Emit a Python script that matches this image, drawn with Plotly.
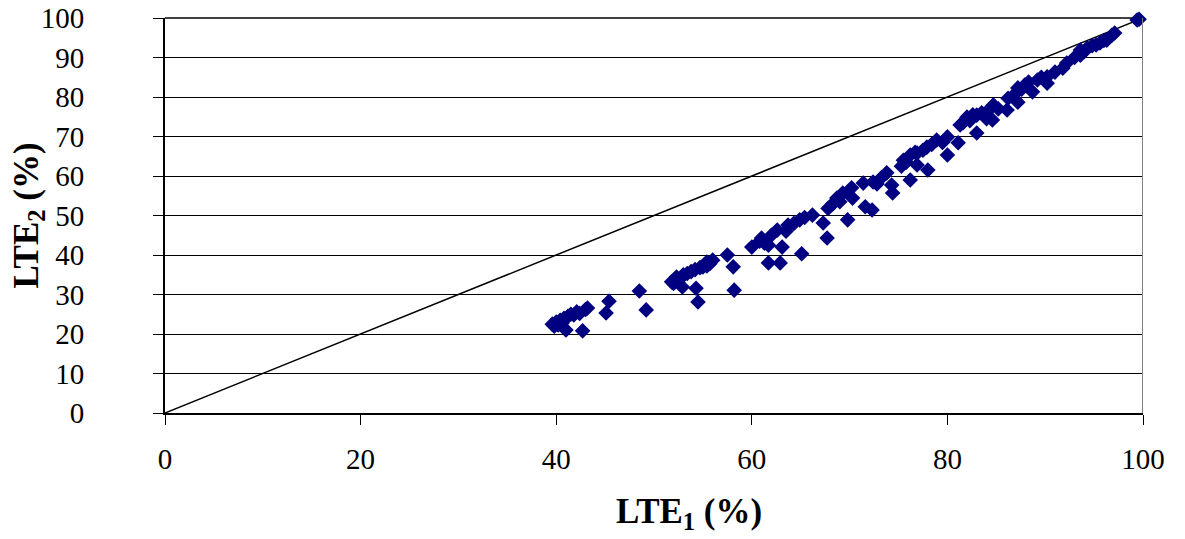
import plotly.graph_objects as go

lte1 = [39.6, 39.8, 40.0, 40.2, 40.4, 40.6, 40.8, 41.0, 41.2, 41.5, 41.8, 42.1, 42.4, 42.7, 43.0, 43.2,
        45.1, 45.4, 48.5, 49.2,
        51.8, 52.0, 52.3, 52.6, 52.9, 53.0, 53.4, 53.8, 54.2, 54.3, 54.5, 54.7, 55.0, 55.4, 55.4, 55.7,
        56.0, 57.5, 58.1, 58.2,
        60.0, 60.8, 61.0, 61.3, 61.7, 61.7, 62.0, 62.6, 62.9, 63.1, 63.5, 63.7, 64.3, 64.9, 65.1, 65.4,
        66.2, 67.3, 67.7, 67.8, 68.3, 68.7, 69.0, 69.3, 69.8, 70.2, 70.3, 71.4, 71.6, 72.3, 72.4, 72.8,
        73.3, 73.8, 74.3, 74.4, 75.3, 75.5, 75.8, 76.2, 76.2, 76.9, 76.7, 76.9, 77.5, 78.0, 77.9, 78.4,
        78.9, 79.5, 80.0, 80.0, 81.1, 81.3, 81.6, 82.0, 82.3, 82.6, 83.0, 83.0, 83.5, 84.0, 84.0, 84.6,
        84.7, 85.2, 86.1, 86.2, 86.8, 87.2, 87.2, 87.6, 87.9, 88.3, 88.7, 89.2, 89.6, 90.2, 90.2, 91.0,
        91.8, 92.2, 93.0, 93.6, 93.6, 94.0, 94.3, 94.8, 95.2, 95.6, 96.0, 96.3, 96.8, 97.1, 99.4, 99.6]
lte2 = [22.5, 22.0, 23.0, 22.3, 23.5, 22.8, 24.0, 21.0, 24.5, 25.0, 24.8, 25.6, 25.2, 20.8, 26.2, 26.6,
        25.3, 28.3, 30.9, 26.1,
        33.2, 32.8, 34.4, 33.8, 31.9, 35.0, 35.3, 35.8, 36.3, 31.6, 28.1, 36.8, 37.0, 37.2, 38.2, 37.8,
        38.7, 40.0, 37.0, 31.1,
        42.0, 43.5, 44.3, 43.0, 42.5, 38.0, 45.0, 46.3, 38.0, 42.0, 46.0, 47.6, 48.0, 48.9, 40.3, 49.5,
        50.1, 48.1, 44.3, 51.8, 53.0, 54.4, 53.5, 55.7, 48.9, 57.0, 54.4, 58.2, 52.2, 51.4, 58.5, 58.0,
        59.7, 60.8, 57.7, 55.7, 62.5, 64.0, 63.5, 59.0, 65.3, 65.8, 66.0, 62.8, 66.5, 61.5, 67.3, 68.0,
        69.1, 68.5, 65.3, 69.9, 68.4, 72.9, 73.5, 74.9, 74.0, 75.5, 70.9, 75.4, 76.0, 76.2, 74.5, 74.2,
        78.0, 77.0, 76.7, 79.7, 80.5, 78.7, 82.3, 82.0, 83.0, 83.8, 81.3, 84.3, 85.0, 85.1, 83.5, 86.3,
        87.3, 88.6, 90.0, 90.6, 91.9, 91.5, 92.4, 93.0, 93.2, 93.7, 94.3, 94.4, 95.6, 96.2, 99.5, 99.7]

line_x = [0, 100]
line_y = [0, 100]

x_ticks = [0, 20, 40, 60, 80, 100]
y_ticks = [0, 10, 20, 30, 40, 50, 60, 70, 80, 90, 100]

FONT = "Liberation Serif"

fig = go.Figure()
fig.add_trace(go.Scatter(x=line_x, y=line_y, mode="lines",
                         line=dict(color="black", width=1.5), hoverinfo="skip",
                         showlegend=False))
fig.add_trace(go.Scatter(x=lte1, y=lte2, mode="markers",
                         marker=dict(symbol="diamond", size=12, color="#000080",
                                     line=dict(width=0)),
                         cliponaxis=False, showlegend=False))

# top gridline (at the range edge) and grey right-hand border of the plot area
fig.add_shape(type="line", xref="paper", yref="paper", x0=0, x1=1, y0=1, y1=1,
              line=dict(color="black", width=1.5), layer="below")
fig.add_shape(type="line", xref="x", yref="y", x0=100, x1=100, y0=-2.5, y1=100,
              line=dict(color="#808080", width=2))

fig.update_layout(
    width=1177, height=531,
    margin=dict(l=157, r=42, t=10, b=126, autoexpand=False),
    paper_bgcolor="white", plot_bgcolor="white",
    font=dict(family=FONT, color="black", size=29),
    xaxis=dict(range=[0, 100], tickvals=x_ticks, showgrid=False, zeroline=False,
               automargin=False, ticklabeloverflow="allow",
               showline=True, linecolor="black", linewidth=1.5,
               ticks="outside", ticklen=10, tickcolor="black", tickwidth=1,
               ticklabelstandoff=9, tickfont=dict(size=29, family=FONT)),
    yaxis=dict(range=[0, 100], tickvals=y_ticks, showgrid=True, gridcolor="black",
               gridwidth=1, zeroline=False, automargin=False, ticklabeloverflow="allow",
               showline=True, linecolor="black", linewidth=2,
               ticks="outside", ticklen=10, tickcolor="black", tickwidth=1,
               ticklabelstandoff=63, tickfont=dict(size=29, family=FONT)),
    annotations=[
        dict(text="<b>LTE<sub>1</sub> (%)</b>", xref="paper", yref="paper",
             x=0.536, y=-0.255, xanchor="center", yanchor="middle", showarrow=False,
             font=dict(size=35, family=FONT)),
        dict(text="<b>LTE<sub>2</sub> (%)</b>", xref="paper", yref="paper",
             x=-0.140, y=0.5, xanchor="center", yanchor="middle", showarrow=False,
             textangle=-90, font=dict(size=35, family=FONT)),
    ],
)

fig.write_html("out.html")
